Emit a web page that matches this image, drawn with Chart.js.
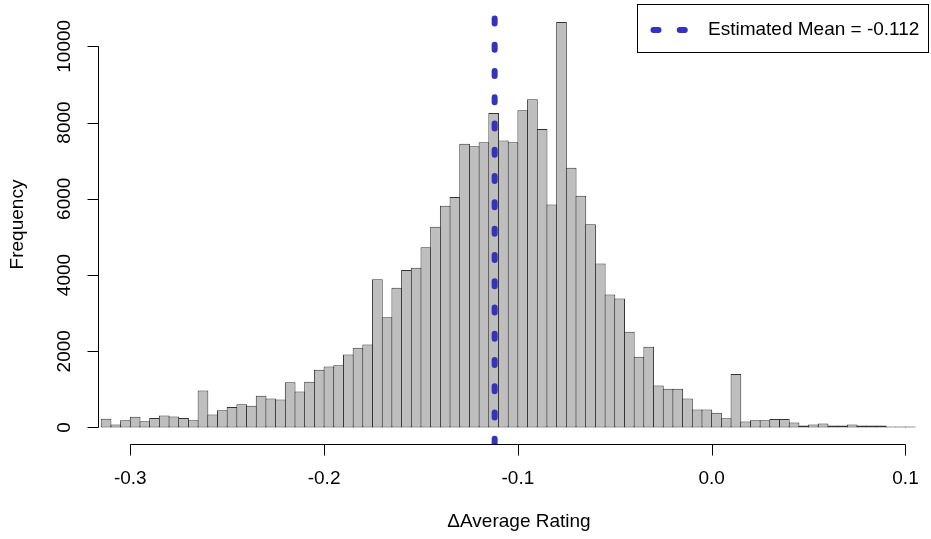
<!DOCTYPE html>
<html>
<head>
<meta charset="utf-8">
<title>Average rating difference</title>
<script src="https://cdn.jsdelivr.net/npm/chart.js@4.4.1/dist/chart.umd.min.js"></script>
<style>
  html, body { margin: 0; padding: 0; background: #fff; }
  canvas { display: block; }
</style>
</head>
<body>
<canvas id="histChart" width="931" height="539"></canvas>
<script>
// Histogram bins: first break and bin width
const binStart = -0.315;
const binWidth = 0.005;

// Counts per bin, left to right
const counts = [
  230, 80, 190, 280, 165, 250, 315, 290, 250, 190,
  970, 340, 455, 535, 610, 570, 830, 760, 735, 1190,
  945, 1200, 1515, 1600, 1630, 1915, 2090, 2180, 3890, 2895,
  3665, 4130, 4190, 4725, 5265, 5820, 6045, 7445, 7375, 7480,
  8250, 7530, 7480, 8320, 8610, 7830, 5850, 10640, 6815, 6080,
  5330, 4305, 3490, 3385, 2510, 1855, 2120, 1100, 1015, 1015,
  760, 475, 475, 385, 245, 1400, 160, 190, 190, 225,
  225, 130, 55, 80, 105, 55, 55, 80, 55, 50,
  50, 25, 25, 25
];

const meanValue = -0.112;

const xTicks = [-0.3, -0.2, -0.1, 0.0, 0.1];
const xTickLabels = ['-0.3', '-0.2', '-0.1', '0.0', '0.1'];
const yTicks = [0, 2000, 4000, 6000, 8000, 10000];
const yTickLabels = ['0', '2000', '4000', '6000', '8000', '10000'];

const xTitle = '\u0394Average Rating';
const yTitle = 'Frequency';

const FONT = '19px "Liberation Sans", Arial, sans-serif';
const MEAN_COLOR = '#3333BB';

const histData = counts.map((c, i) => ({ x: binStart + binWidth * (i + 0.5), y: c }));

// R-style axes, titles and legend box
const baseAxes = {
  id: 'baseAxes',
  afterDraw(chart) {
    const { ctx, chartArea, scales: { x, y } } = chart;
    ctx.save();
    ctx.strokeStyle = '#000';
    ctx.fillStyle = '#000';
    ctx.lineWidth = 1;
    ctx.font = FONT;

    // x axis
    const xa = Math.round(chartArea.bottom) + 0.5;
    ctx.beginPath();
    ctx.moveTo(x.getPixelForValue(xTicks[0]), xa);
    ctx.lineTo(x.getPixelForValue(xTicks[xTicks.length - 1]), xa);
    xTicks.forEach(v => {
      const px = Math.round(x.getPixelForValue(v)) + 0.5;
      ctx.moveTo(px, xa);
      ctx.lineTo(px, xa + 11);
    });
    ctx.stroke();
    ctx.textAlign = 'center';
    ctx.textBaseline = 'middle';
    xTicks.forEach((v, i) => {
      ctx.fillText(xTickLabels[i], x.getPixelForValue(v), 479);
    });
    ctx.fillText(xTitle, 519, 522);

    // y axis
    const ya = Math.round(chartArea.left) - 0.5;
    ctx.beginPath();
    ctx.moveTo(ya, y.getPixelForValue(yTicks[0]));
    ctx.lineTo(ya, y.getPixelForValue(yTicks[yTicks.length - 1]));
    yTicks.forEach(v => {
      const py = Math.round(y.getPixelForValue(v)) + 0.5;
      ctx.moveTo(ya, py);
      ctx.lineTo(ya - 11, py);
    });
    ctx.stroke();
    yTicks.forEach((v, i) => {
      ctx.save();
      ctx.translate(65, y.getPixelForValue(v));
      ctx.rotate(-Math.PI / 2);
      ctx.fillText(yTickLabels[i], 0, 0);
      ctx.restore();
    });
    ctx.save();
    ctx.translate(18, (chartArea.top + chartArea.bottom) / 2);
    ctx.rotate(-Math.PI / 2);
    ctx.fillText(yTitle, 0, 0);
    ctx.restore();

    // legend
    ctx.fillStyle = '#fff';
    ctx.fillRect(637.5, 4.5, 291, 48);
    ctx.strokeRect(637.5, 4.5, 291, 48);
    ctx.strokeStyle = MEAN_COLOR;
    ctx.lineWidth = 6;
    ctx.lineCap = 'round';
    ctx.setLineDash([5, 21.27]);
    ctx.beginPath();
    ctx.moveTo(653.5, 30);
    ctx.lineTo(686, 30);
    ctx.stroke();
    ctx.setLineDash([]);
    ctx.fillStyle = '#000';
    ctx.textAlign = 'left';
    ctx.fillText('Estimated Mean = ' + meanValue, 708, 30);
    ctx.restore();
  }
};

const chart = new Chart(document.getElementById('histChart'), {
  type: 'bar',
  data: {
    datasets: [
      {
        type: 'line',
        label: 'Estimated Mean',
        data: [{ x: meanValue, y: 11083 }, { x: meanValue, y: -433 }],
        borderColor: MEAN_COLOR,
        borderWidth: 6,
        borderCapStyle: 'round',
        borderDash: [5, 21.27],
        borderDashOffset: 12.8,
        pointRadius: 0,
        order: 0
      },
      {
        label: 'Frequency',
        data: histData,
        backgroundColor: '#BEBEBE',
        borderColor: '#333333',
        borderWidth: 1,
        borderSkipped: false,
        barPercentage: 1.103,
        categoryPercentage: 1,
        order: 1
      }
    ]
  },
  options: {
    responsive: false,
    animation: false,
    devicePixelRatio: 1,
    layout: { padding: { left: 99, right: 2, top: 5, bottom: 95 } },
    plugins: {
      legend: { display: false },
      tooltip: { enabled: false }
    },
    scales: {
      x: {
        type: 'linear',
        display: false,
        offset: false,
        min: -0.31615,
        max: 0.11213
      },
      y: {
        display: false,
        min: -433,
        max: 11083
      }
    }
  },
  plugins: [baseAxes]
});
</script>
</body>
</html>
